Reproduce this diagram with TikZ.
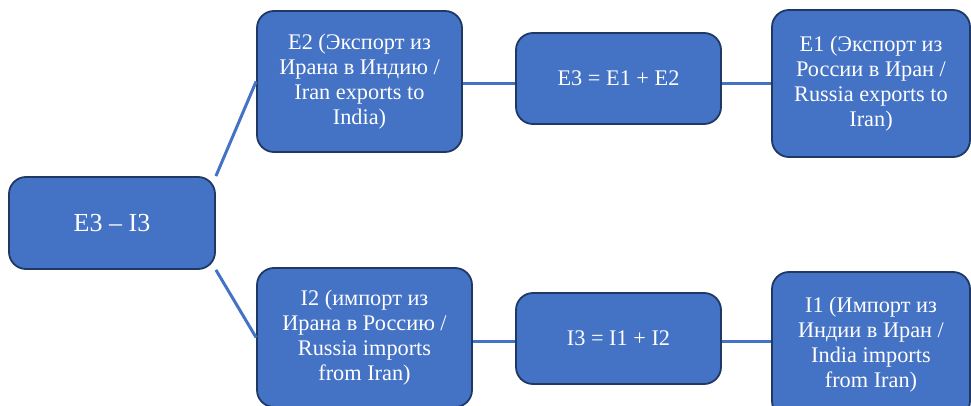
\documentclass[tikz,border=0pt]{standalone}
\usepackage{fontspec}
\setmainfont{Liberation Serif}
\usetikzlibrary{positioning,calc}
\definecolor{boxblue}{HTML}{4472C4}
\definecolor{boxedge}{HTML}{1F3864}

\begin{document}
\begin{tikzpicture}[
    x=1pt, y=-1pt,
    block/.style = {rectangle, rounded corners=17pt, draw=boxedge, line width=1.8pt, fill=boxblue, text=white, align=center, inner sep=0pt, font=\fontsize{22.3}{25}\selectfont},
    link/.style = {draw=boxblue, line width=3pt},
    ]
    \useasboundingbox (0,0) rectangle (971,406);
    \node[block, minimum width=206pt, minimum height=92pt, font=\fontsize{26}{30}\selectfont] (diff) at (112,223) {E3 – I3};
    \node[block, minimum width=205pt, minimum height=141pt] (e2) at (359.5,81.5) {E2 (Экспорт из\\Ирана в Индию /\\Iran exports to\\India)};
    \node[block, minimum width=205pt, minimum height=91pt] (esum) at (618.5,78.5) {E3 = E1 + E2};
    \node[block, minimum width=198pt, minimum height=147pt] (e1) at (871,83.5) {E1 (Экспорт из\\России в Иран /\\Russia exports to\\Iran)};
    \node[block, minimum width=215pt, minimum height=139pt] (i2) at (364.5,337.5) {I2 (импорт из\\Ирана в Россию /\\Russia imports\\from Iran)};
    \node[block, minimum width=205pt, minimum height=91pt] (isum) at (618.5,338.5) {I3 = I1 + I2};
    \node[block, minimum width=198pt, minimum height=146pt] (i1) at (871,345) {I1 (Импорт из\\Индии в Иран /\\India imports\\from Iran)};
    \coordinate (toprow) at (0,84);
    \coordinate (botrow) at (0,341.5);

    \draw[link] (diff.north east) -- (e2.west);
    \draw[link] (diff.south east) -- (i2.west);
    \draw[link] (e2.east |- toprow) -- (esum.west |- toprow);
    \draw[link] (esum.east |- toprow) -- (e1.west |- toprow);
    \draw[link] (i2.east |- botrow) -- (isum.west |- botrow);
    \draw[link] (isum.east |- botrow) -- (i1.west |- botrow);
\end{tikzpicture}
\end{document}
